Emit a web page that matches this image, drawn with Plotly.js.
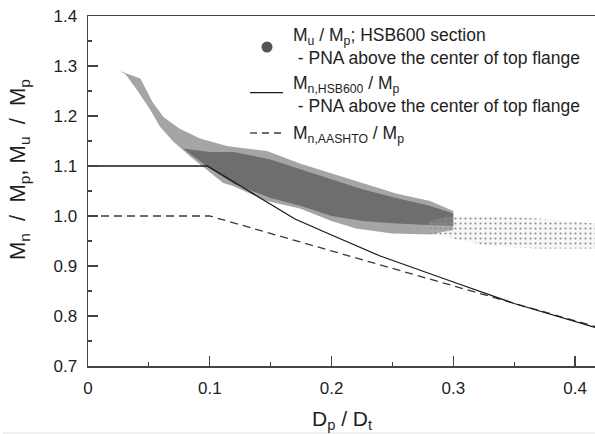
<!DOCTYPE html>
<html>
<head>
<meta charset="utf-8">
<script src="https://cdn.plot.ly/plotly-3.0.1.min.js"></script>
<style>html,body{margin:0;padding:0;background:#fff;}#chart{width:595px;height:434px;}</style>
</head>
<body>
<div id="chart"></div>
<script>
// ---- data ----
// Mn,HSB600 / Mp curve
const hsbX = [0, 0.098, 0.13, 0.17, 0.2, 0.24, 0.3, 0.35, 0.4164];
const hsbY = [1.1, 1.1, 1.053, 0.994, 0.962, 0.92, 0.868, 0.825, 0.777];
// Mn,AASHTO / Mp curve
const aashtoX = [0, 0.1, 0.4164];
const aashtoY = [1.0, 1.0, 0.779];
// Mu / Mp scatter cloud: outer envelope (upper edge left->right, lower edge right->left)
const cloudOuterX = [0.026, 0.043, 0.053, 0.062, 0.075, 0.092, 0.114, 0.147, 0.174, 0.2, 0.226, 0.253, 0.281, 0.3,
                     0.3, 0.281, 0.25, 0.22, 0.2, 0.174, 0.147, 0.119, 0.111, 0.097, 0.084, 0.07, 0.059, 0.051, 0.04, 0.031, 0.026];
const cloudOuterY = [1.29, 1.275, 1.228, 1.198, 1.175, 1.155, 1.14, 1.13, 1.105, 1.085, 1.065, 1.045, 1.03, 1.01,
                     0.972, 0.963, 0.965, 0.975, 0.99, 1.015, 1.03, 1.06, 1.066, 1.093, 1.119, 1.149, 1.179, 1.213, 1.253, 1.283, 1.29];
// dense core of the cloud
const cloudCoreX = [0.078, 0.1, 0.12, 0.15, 0.175, 0.2, 0.226, 0.253, 0.28, 0.3,
                    0.3, 0.28, 0.253, 0.226, 0.2, 0.175, 0.15, 0.12, 0.1, 0.078];
const cloudCoreY = [1.135, 1.128, 1.128, 1.113, 1.093, 1.073, 1.053, 1.036, 1.021, 1.005,
                    0.98, 0.982, 0.985, 0.99, 1.0, 1.02, 1.036, 1.064, 1.095, 1.135];
// sparse tail of the cloud beyond 0.3
const cloudTailX = [0.28, 0.3, 0.33, 0.37, 0.4164, 0.4164, 0.37, 0.33, 0.3, 0.28, 0.28];
const cloudTailY = [0.99, 1.0, 1.0, 0.995, 0.985, 0.935, 0.935, 0.94, 0.955, 0.965, 0.99];

const xTicks = [0, 0.1, 0.2, 0.3, 0.4];
const yTicks = [0.7, 0.8, 0.9, 1.0, 1.1, 1.2, 1.3, 1.4];

// ---- layout helpers (pixel -> paper) ----
const L = 88, T = 16, W = 595, H = 434, B = 68;
const PW = W - L, PH = H - T - B;
const px = p => (p - L) / PW;
const py = p => (H - B - p) / PH;

const FONT = 'Liberation Sans, Arial, Helvetica, sans-serif';
const TXT = '#1e1e1e';
const S = '\u00a0';

const traces = [
  {x: cloudOuterX, y: cloudOuterY, type: 'scatter', mode: 'lines', fill: 'toself',
   line: {width: 0, color: 'rgba(0,0,0,0)'}, fillcolor: 'rgba(100,100,100,0.58)',
   hoverinfo: 'skip', showlegend: false},
  {x: cloudCoreX, y: cloudCoreY, type: 'scatter', mode: 'lines', fill: 'toself',
   line: {width: 0, color: 'rgba(0,0,0,0)'}, fillcolor: 'rgba(70,70,70,0.58)',
   hoverinfo: 'skip', showlegend: false},
  {x: cloudTailX, y: cloudTailY, type: 'scatter', mode: 'lines', fill: 'toself',
   line: {width: 0, color: 'rgba(0,0,0,0)'}, fillcolor: 'rgba(0,0,0,0)',
   fillpattern: {shape: '.', fgcolor: '#8c8c8c', bgcolor: 'rgba(200,200,200,0.15)', size: 5, solidity: 0.14},
   hoverinfo: 'skip', showlegend: false},
  {x: aashtoX, y: aashtoY, type: 'scatter', mode: 'lines',
   line: {color: '#3a3a3a', width: 1.3, dash: '8px,5px'}, showlegend: false},
  {x: hsbX, y: hsbY, type: 'scatter', mode: 'lines',
   line: {color: '#1a1a1a', width: 1.3}, showlegend: false}
];

const fs = 17.5;
const annotations = [
  {xref: 'paper', yref: 'paper', x: 0.5, y: py(405), xanchor: 'center', yanchor: 'top', showarrow: false,
   text: 'D<sub>p</sub> / D<sub>t</sub>', font: {family: FONT, size: 21, color: TXT}},
  {xref: 'paper', yref: 'paper', x: px(19), y: py(170), xanchor: 'center', yanchor: 'middle', showarrow: false,
   textangle: -90,
   text: 'M<sub>n</sub>' + S + S + '/' + S + S + 'M<sub>p</sub>,' + S + 'M<sub>u</sub>' + S + S + '/' + S + S + 'M<sub>p</sub>',
   font: {family: FONT, size: 22, color: TXT}},
  {xref: 'paper', yref: 'paper', x: px(291), y: py(47), xanchor: 'left', yanchor: 'middle', showarrow: false, align: 'left',
   text: 'M<sub>u</sub> / M<sub>p</sub>; HSB600 section<br>' + S + '- PNA above the center of top flange', font: {family: FONT, size: fs, color: TXT}},
  {xref: 'paper', yref: 'paper', x: px(291), y: py(94), xanchor: 'left', yanchor: 'middle', showarrow: false, align: 'left',
   text: 'M<sub>n,HSB600</sub> / M<sub>p</sub><br>' + S + '- PNA above the center of top flange', font: {family: FONT, size: fs, color: TXT}},
  {xref: 'paper', yref: 'paper', x: px(291), y: py(134), xanchor: 'left', yanchor: 'middle', showarrow: false, align: 'left',
   text: 'M<sub>n,AASHTO</sub> / M<sub>p</sub>', font: {family: FONT, size: fs, color: TXT}}
];

const shapes = [
  {type: 'circle', xref: 'paper', yref: 'paper', x0: px(261.5), x1: px(272.5), y0: py(52.5), y1: py(41.5),
   fillcolor: '#555', line: {width: 0}},
  {type: 'line', xref: 'paper', yref: 'paper', x0: px(250), x1: px(283), y0: py(92.7), y1: py(92.7),
   line: {color: '#1a1a1a', width: 1.3}},
  {type: 'line', xref: 'paper', yref: 'paper', x0: px(250), x1: px(285), y0: py(133), y1: py(133),
   line: {color: '#3a3a3a', width: 1.3, dash: '7px,5px'}},
  {type: 'line', xref: 'paper', yref: 'paper', x0: px(3), x1: px(595), y0: py(433), y1: py(433),
   line: {color: '#e2e2e2', width: 1}}
];

const axisCommon = {
  showgrid: false, zeroline: false, showline: true, linecolor: '#444', linewidth: 1.5,
  ticks: 'inside', ticklen: 10, tickwidth: 1.2, tickcolor: '#444',
  tickfont: {family: FONT, size: 17, color: TXT}
};

const layout = {
  width: W, height: H,
  margin: {l: L, r: 0, t: T, b: B, pad: 0},
  paper_bgcolor: '#fff', plot_bgcolor: '#fff',
  showlegend: false,
  xaxis: Object.assign({}, axisCommon, {
    range: [0, 0.4164], tickvals: xTicks, ticktext: xTicks.map(String), mirror: true, ticklabelstandoff: 6,
    minor: {dtick: 0.05, tick0: 0, ticks: 'inside', ticklen: 4, tickwidth: 1.2, tickcolor: '#444'}
  }),
  yaxis: Object.assign({}, axisCommon, {
    range: [0.7, 1.4], tickvals: yTicks, ticktext: yTicks.map(v => v.toFixed(1)), ticklabelstandoff: 6,
    minor: {dtick: 0.05, tick0: 0.7, ticks: 'inside', ticklen: 4, tickwidth: 1.2, tickcolor: '#444'}
  }),
  annotations: annotations,
  shapes: shapes
};

Plotly.newPlot('chart', traces, layout, {displayModeBar: false, staticPlot: true});
</script>
</body>
</html>
